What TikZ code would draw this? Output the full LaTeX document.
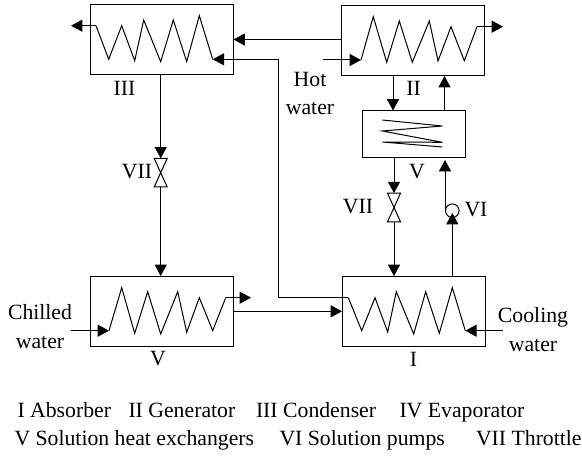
\documentclass[tikz,border=0pt]{standalone}
\usepackage{fontspec}
\setmainfont{Liberation Serif}
\usetikzlibrary{arrows.meta}
\tikzset{
  box/.style={draw,inner sep=0pt,anchor=north west},
  lab/.style={inner sep=0pt,font=\fontsize{16.3}{16}\selectfont},
  pipe/.style={-{Triangle[length=8.5pt,width=9pt]}},
  coil/.style={line join=miter},
}
\begin{document}
\begin{tikzpicture}[x=0.75pt,y=-0.75pt,line width=0.75pt]
      \useasboundingbox (0,0) rectangle (582,456);
      % boxes
      \node[box,minimum width=107.25pt,minimum height=52.5pt](cond) at (89.5,4){};
      \node[box,minimum width=107.25pt,minimum height=52.5pt](gen) at (341,5){};
      \node[box,minimum width=77.5pt,minimum height=34.9pt](hex) at (361.7,110.5){};
      \node[box,minimum width=107.25pt,minimum height=52.5pt](evap) at (89.5,276){};
      \node[box,minimum width=107.25pt,minimum height=52.5pt](abs) at (342,276){};
      % coils
      \draw[coil] (96,25.7) coordinate(condA) -- (108.7,59.3) -- (121.7,25.7) -- (134.7,60.7) -- (143.7,20) -- (160.7,61.7) -- (173.3,20) -- (186.7,61.7) -- (199.3,15.7) -- (212.7,59.3) coordinate(condB);
      \draw[coil] (361,60) coordinate(genA) -- (373.3,16.7) -- (386.7,62.3) -- (399.3,21) -- (412.3,62.3) -- (429.3,21) -- (438,61) -- (451,26.7) -- (464.3,60.7) -- (477,26.7) coordinate(genB);
      \draw[coil] (382.3,120) -- (442.3,126) -- (382.3,131) -- (442.3,142.3) -- (382.3,142) -- (442.3,147);
      \draw[coil] (109,330.7) coordinate(evapA) -- (121.7,287.7) -- (134.7,333.3) -- (147.7,291.7) -- (160.7,334) -- (177.7,291.7) -- (186.7,332.3) -- (199.3,297.7) -- (212.7,330.7) -- (225.7,297.7) coordinate(evapB);
      \draw[coil] (348.3,297.7) coordinate(absA) -- (361.7,330.7) -- (375,297.7) -- (387.7,332) -- (396.3,291.7) -- (413.7,334) -- (425.7,291.7) -- (439.3,333.3) -- (452.3,287.7) -- (465.3,330.7) coordinate(absB);
      % throttles
      \coordinate (vlvL) at (160.7,172.7);
      \coordinate (vlvR) at (394,207.5);
      \foreach \v in {vlvL,vlvR}{
        \draw (\v) ++(-6.5,-14.3) coordinate(\v T) -- ++(13,0) -- ++(-13,28.6) -- ++(13,0) -- cycle;
      }
      \coordinate (vlvLt) at (160.7,158.4);
      \coordinate (vlvLb) at (160.7,187);
      \coordinate (vlvRt) at (394,193.2);
      \coordinate (vlvRb) at (394,221.8);
      % pump
      \node[draw,circle,inner sep=0pt,minimum size=10.2pt](pump) at (452.3,210.7){};
      % free ends
      \coordinate (condOut) at (71,25.7);
      \coordinate (genOut) at (503,26.7);
      \coordinate (evapOut) at (251,297.7);
      \coordinate (hotIn) at (323,60);
      \coordinate (chillIn) at (71,330.7);
      \coordinate (coolIn) at (503,330.7);
      % connectors
      \draw[pipe] (condA) -- (condOut);
      \draw[pipe] (genB) -- (genOut);
      \draw[pipe] (evapB) -- (evapOut);
      \draw[pipe] (hotIn) -- (genA);
      \draw[pipe] (chillIn) -- (evapA);
      \draw[pipe] (coolIn) -- (absB);
      \draw[pipe] (gen.west |- 0,39.5) -- (cond.east |- 0,39.5);
      \draw[pipe] (absA) -- (278.7,297.7) -- (278.7,59.3) -- (condB);
      \draw[pipe] (evap.east |- 0,311.3) -- (abs.west |- 0,311.3);
      \draw[pipe] (cond.south -| vlvL) -- (vlvLt);
      \draw[pipe] (vlvLb) -- (evap.north -| vlvL);
      \draw[pipe] (gen.south -| 393,0) -- (hex.north -| 393,0);
      \draw[pipe] (hex.north -| 444.5,0) -- (gen.south -| 444.5,0);
      \draw[pipe] (hex.south -| vlvR) -- (vlvRt);
      \draw[pipe] (vlvRb) -- (abs.north -| vlvR);
      \draw[pipe] (abs.north -| pump) -- (452.3,213);
      \draw[pipe] (pump.west) -- (pump.west |- 0,160);
      % labels
      \node[lab](lblC) at (124.5,88){III};
      \node[lab](lblG) at (413.5,88){II};
      \node[lab](lblH) at (417,172){V};
      \node[lab](lblE) at (158,358.5){V};
      \node[lab](lblA) at (413.5,359){I};
      \node[lab](lblVL) at (137,172){VII};
      \node[lab](lblVR) at (358,207){VII};
      \node[lab](lblP) at (476,210){VI};
      \node[lab,align=center](lblHot) at (310,93.5){Hot\\[5.7pt]water};
      \node[lab,align=center](lblChill) at (40,326.5){Chilled\\[5.7pt]water};
      \node[lab,align=center](lblCool) at (533,329.5){Cooling\\[5.7pt]water};
      \node[lab,anchor=base west](keyA) at (17,417){I Absorber};
      \node[lab,anchor=base west](keyB) at (128,417){II Generator};
      \node[lab,anchor=base west](keyC) at (255.5,417){III Condenser};
      \node[lab,anchor=base west](keyD) at (399,417){IV Evaporator};
      \node[lab,anchor=base west](keyE) at (14,445){V Solution heat exchangers};
      \node[lab,anchor=base west](keyF) at (279,445){VI Solution pumps};
      \node[lab,anchor=base west](keyG) at (475.5,445){VII Throttle};
    \end{tikzpicture}
\end{document}
